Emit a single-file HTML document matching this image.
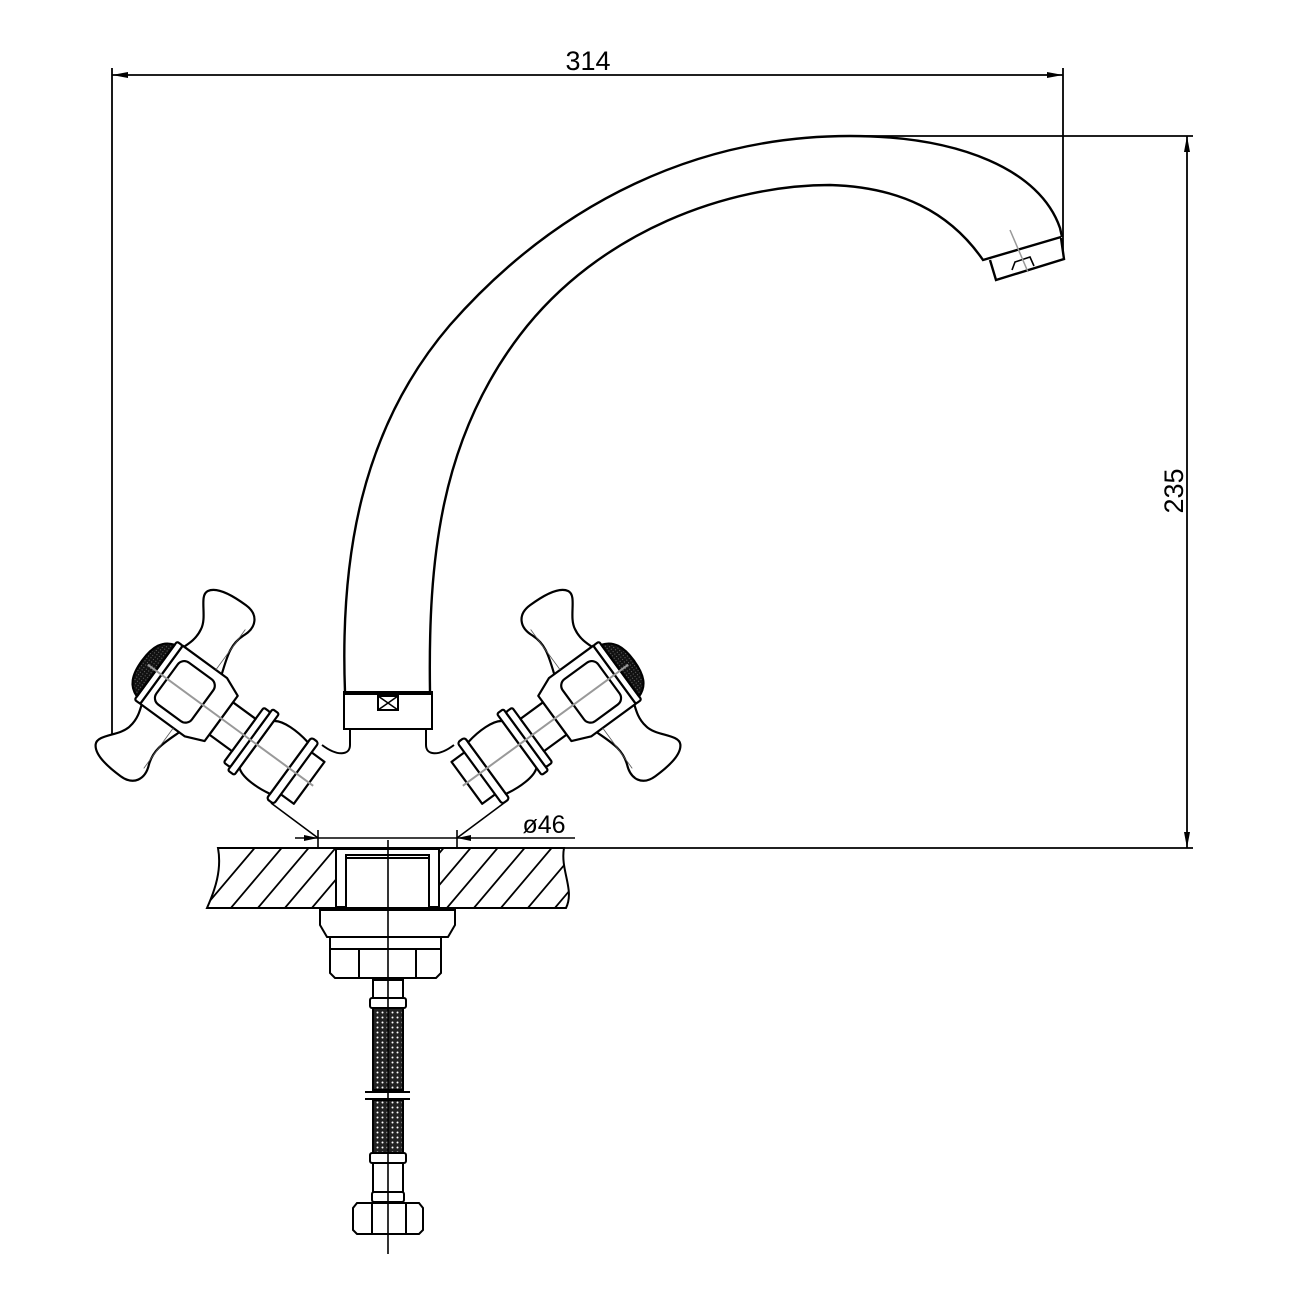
<!DOCTYPE html>
<html><head><meta charset="utf-8"><style>html,body{margin:0;padding:0;background:#fff}svg{display:block}</style></head>
<body>
<svg width="1300" height="1300" viewBox="0 0 1300 1300" xmlns="http://www.w3.org/2000/svg">
<defs>
<pattern id="braid" width="5" height="5" patternUnits="userSpaceOnUse">
<rect width="5" height="5" fill="#222"/><circle cx="2.5" cy="2.5" r="1" fill="#fff"/>
</pattern>
<pattern id="knurl" width="3" height="3" patternUnits="userSpaceOnUse">
<rect width="3" height="3" fill="#111"/><circle cx="1.5" cy="1.5" r="0.5" fill="#888"/>
</pattern>
<clipPath id="ctop"><path d="M218,848 L564,848 C560,870 575,890 566,908 L207,908 C215,890 222,870 218,848 Z"/></clipPath>
<g id="valve" fill="#fff" stroke="#000" stroke-width="2.2" stroke-linejoin="round">
  <path d="M-20,-26 L0,-26 L0,26 L-20,26 Z"/>
  <rect x="-4" y="-38" width="9" height="76" rx="3"/>
  <path d="M5,-32 C20,-35 38,-35 45,-29 L45,29 C38,35 20,35 5,32 Z"/>
  <rect x="45" y="-38" width="8" height="76" rx="2"/>
  <rect x="53" y="-34" width="8" height="68" rx="2"/>
  <rect x="61" y="-20" width="28" height="40"/>
  <path d="M114,34 C120,52 126,64 120,80 C114,94 120,106 136,106 C152,106 170,104 175,95 C180,86 160,74 158,60 C156,50 159,42 162,34 Z"/>
  <path d="M114,-34 C120,-52 126,-64 120,-80 C114,-94 120,-106 136,-106 C152,-106 170,-104 175,-95 C180,-86 160,-74 158,-60 C156,-50 159,-42 162,-34 Z"/>
  <path d="M89,-28 L108,-36 L163,-36 L163,36 L108,36 L89,28 Z"/>
  <rect x="112" y="-26" width="44" height="52" rx="8"/>
  <rect x="163" y="-36" width="7" height="72" rx="2"/>
  <path d="M170,-32 C182,-28 187,-18 187,0 C187,18 182,28 170,32 Z" fill="url(#knurl)"/>
  <line x1="122" y1="36" x2="122" y2="86" stroke="#555" stroke-width="0.8"/>
  <line x1="122" y1="-36" x2="122" y2="-86" stroke="#555" stroke-width="0.8"/>
  <line x1="-25" y1="0" x2="180" y2="0" stroke="#999" stroke-width="2"/>
</g>
</defs>

<g fill="none" stroke="#000" stroke-width="1.8">
  <line x1="112" y1="75" x2="1063" y2="75"/>
  <line x1="112" y1="68" x2="112" y2="765"/>
  <line x1="1063" y1="68" x2="1063" y2="252"/>
  <line x1="1187" y1="136" x2="1187" y2="848"/>
  <line x1="850" y1="136" x2="1193" y2="136"/>
  <line x1="440" y1="848" x2="1193" y2="848"/>
</g>
<g fill="#000">
  <path d="M112,75 L128,72 L128,78 Z"/>
  <path d="M1063,75 L1047,72 L1047,78 Z"/>
  <path d="M1187,136 L1184,152 L1190,152 Z"/>
  <path d="M1187,848 L1184,832 L1190,832 Z"/>
</g>
<text x="588" y="70" font-family="Liberation Sans, sans-serif" font-size="27" text-anchor="middle">314</text>
<text transform="translate(1183,491) rotate(-90)" font-family="Liberation Sans, sans-serif" font-size="27" text-anchor="middle">235</text>

<g fill="none" stroke="#000" stroke-width="2.4">
  <path d="M345,692 C340,560 360,430 450,325 C560,200 700,136 850,136 C960,136 1040,170 1060,228 L1062,237"/>
  <path d="M430,692 C428,560 440,440 520,335 C600,230 730,185 830,185 C900,187 950,212 983,260 L1061,237"/>
  <path d="M990,260 L996,280 L1064,259 L1061,238"/>
  <path d="M1012,270 L1015,262 L1030,257 L1034,266" stroke-width="1.6"/>
  <line x1="1010" y1="230" x2="1028" y2="272" stroke="#999" stroke-width="1.5"/>
</g>
<rect x="344" y="692" width="88" height="37" fill="#fff" stroke="#000" stroke-width="2"/>
<line x1="344" y1="693" x2="432" y2="693" stroke="#000" stroke-width="4"/>
<rect x="378" y="696" width="20" height="14" fill="#fff" stroke="#000" stroke-width="2"/>
<path d="M378,696 L398,710 M398,696 L378,710" stroke="#000" stroke-width="1.5"/>
<path d="M350,729 L350,745 C350,755 338,757 322,745" fill="none" stroke="#000" stroke-width="2"/>
<path d="M426,729 L426,745 C426,755 438,757 454,745" fill="none" stroke="#000" stroke-width="2"/>

<use href="#valve" transform="translate(293,771) rotate(216.2)"/>
<use href="#valve" transform="translate(776,0) scale(-1,1) translate(293,771) rotate(216.2)"/>

<g stroke="#000" stroke-width="1.6" fill="none">
  <line x1="295" y1="838" x2="575" y2="838"/>
  <line x1="271" y1="803" x2="318" y2="838"/>
  <line x1="504" y1="803" x2="457" y2="838"/>
  <line x1="318" y1="830" x2="318" y2="848"/>
  <line x1="457" y1="830" x2="457" y2="848"/>
</g>
<path d="M318,838 L304,835 L304,841 Z M457,838 L471,835 L471,841 Z" fill="#000"/>
<text x="544" y="833" font-family="Liberation Sans, sans-serif" font-size="25" text-anchor="middle">ø46</text>

<g clip-path="url(#ctop)" stroke="#000" stroke-width="1.8">
  <path d="M170,948 L280,818 M197,948 L307,818 M224,948 L334,818 M251,948 L361,818 M278,948 L388,818 M305,948 L415,818 M332,948 L442,818 M359,948 L469,818 M386,948 L496,818 M413,948 L523,818 M440,948 L550,818 M467,948 L577,818 M494,948 L604,818 M521,948 L631,818 M548,948 L658,818 M575,948 L685,818"/>
</g>
<path d="M218,848 L564,848 C560,870 575,890 566,908 L207,908 C215,890 222,870 218,848 Z" fill="none" stroke="#000" stroke-width="2"/>
<rect x="336" y="849" width="103" height="58" fill="#fff" stroke="#000" stroke-width="2"/>
<rect x="346" y="855" width="83" height="53" fill="#fff" stroke="#000" stroke-width="2"/>
<line x1="346" y1="858" x2="429" y2="858" stroke="#000" stroke-width="2"/>

<g fill="#fff" stroke="#000" stroke-width="2">
  <path d="M320,910 L455,910 L455,925 L448,937 L327,937 L320,925 Z"/>
  <rect x="330" y="937" width="111" height="12"/>
  <path d="M330,949 L441,949 L441,973 L436,978 L335,978 L330,973 Z"/>
  <line x1="359" y1="949" x2="359" y2="978"/>
  <line x1="416" y1="949" x2="416" y2="978"/>
  <rect x="373" y="980" width="30" height="18"/>
  <rect x="370" y="998" width="36" height="10" rx="2"/>
  <rect x="373" y="1008" width="30" height="82" fill="url(#braid)"/>
  <rect x="373" y="1100" width="30" height="53" fill="url(#braid)"/>
  <line x1="365" y1="1092" x2="410" y2="1092"/>
  <line x1="365" y1="1099" x2="410" y2="1099"/>
  <rect x="370" y="1153" width="36" height="10" rx="2"/>
  <rect x="373" y="1163" width="30" height="29"/>
  <rect x="372" y="1192" width="32" height="10" rx="2"/>
  <path d="M357,1203 L419,1203 L423,1208 L423,1230 L419,1234 L357,1234 L353,1230 L353,1208 Z"/>
  <line x1="372" y1="1203" x2="372" y2="1234"/>
  <line x1="406" y1="1203" x2="406" y2="1234"/>
</g>
<line x1="388" y1="840" x2="388" y2="1254" stroke="#000" stroke-width="1.6"/>
</svg>
</body></html>
